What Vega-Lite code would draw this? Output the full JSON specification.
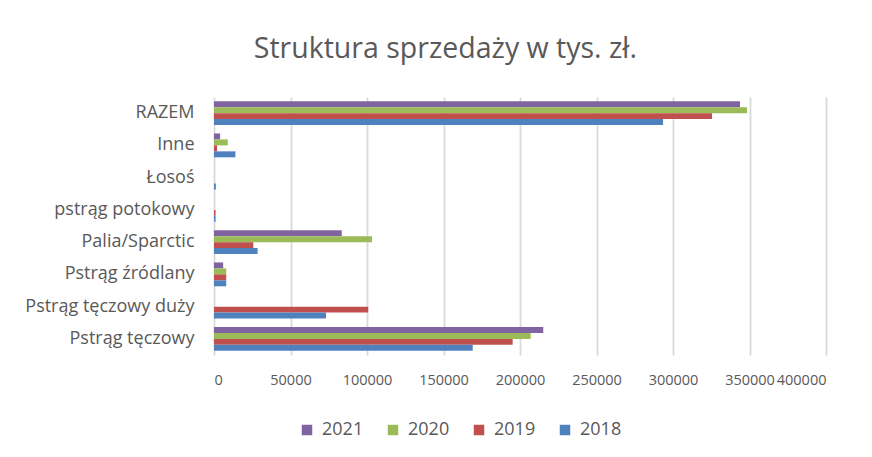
{
  "$schema": "https://vega.github.io/schema/vega-lite/v6.json",
  "width": 612,
  "height": 258,
  "autosize": {"type": "none"},
  "padding": {"left": 214, "top": 97, "right": 46, "bottom": 102},
  "background": "white",
  "title": {"text": "Struktura sprzedaży  w tys. zł.", "fontSize": 28.5, "font": "Open Sans", "fontWeight": "normal", "color": "#595959", "frame": "bounds", "anchor": "middle", "offset": 34, "dx": 20},
  "data": {"values": [
    {"kat": "RAZEM", "rok": "2021", "v": 343800},
    {"kat": "RAZEM", "rok": "2020", "v": 348400},
    {"kat": "RAZEM", "rok": "2019", "v": 325500},
    {"kat": "RAZEM", "rok": "2018", "v": 293500},
    {"kat": "Inne", "rok": "2021", "v": 4000},
    {"kat": "Inne", "rok": "2020", "v": 9000},
    {"kat": "Inne", "rok": "2019", "v": 2000},
    {"kat": "Inne", "rok": "2018", "v": 14000},
    {"kat": "Łosoś", "rok": "2021", "v": 0},
    {"kat": "Łosoś", "rok": "2020", "v": 0},
    {"kat": "Łosoś", "rok": "2019", "v": 0},
    {"kat": "Łosoś", "rok": "2018", "v": 1200},
    {"kat": "pstrąg potokowy", "rok": "2021", "v": 0},
    {"kat": "pstrąg potokowy", "rok": "2020", "v": 0},
    {"kat": "pstrąg potokowy", "rok": "2019", "v": 1000},
    {"kat": "pstrąg potokowy", "rok": "2018", "v": 1000},
    {"kat": "Palia/Sparctic", "rok": "2021", "v": 83500},
    {"kat": "Palia/Sparctic", "rok": "2020", "v": 103300},
    {"kat": "Palia/Sparctic", "rok": "2019", "v": 25700},
    {"kat": "Palia/Sparctic", "rok": "2018", "v": 28500},
    {"kat": "Pstrąg źródlany", "rok": "2021", "v": 6000},
    {"kat": "Pstrąg źródlany", "rok": "2020", "v": 8000},
    {"kat": "Pstrąg źródlany", "rok": "2019", "v": 8000},
    {"kat": "Pstrąg źródlany", "rok": "2018", "v": 8000},
    {"kat": "Pstrąg tęczowy duży", "rok": "2021", "v": 0},
    {"kat": "Pstrąg tęczowy duży", "rok": "2020", "v": 0},
    {"kat": "Pstrąg tęczowy duży", "rok": "2019", "v": 100800},
    {"kat": "Pstrąg tęczowy duży", "rok": "2018", "v": 73200},
    {"kat": "Pstrąg tęczowy", "rok": "2021", "v": 215200},
    {"kat": "Pstrąg tęczowy", "rok": "2020", "v": 207000},
    {"kat": "Pstrąg tęczowy", "rok": "2019", "v": 195200},
    {"kat": "Pstrąg tęczowy", "rok": "2018", "v": 169100}
  ]},
  "mark": {"type": "bar", "stroke": null},
  "encoding": {
    "y": {
      "field": "kat", "type": "nominal",
      "sort": ["RAZEM", "Inne", "Łosoś", "pstrąg potokowy", "Palia/Sparctic", "Pstrąg źródlany", "Pstrąg tęczowy duży", "Pstrąg tęczowy"],
      "scale": {"paddingInner": 0.26, "paddingOuter": 0.13},
      "axis": {"title": null, "ticks": false, "domain": false, "labelFont": "Open Sans", "labelFontSize": 18, "labelColor": "#595959", "labelPadding": 20}
    },
    "yOffset": {"field": "rok", "type": "nominal", "sort": ["2021", "2020", "2019", "2018"]},
    "x": {
      "field": "v", "type": "quantitative",
      "scale": {"domain": [0, 400000], "nice": false},
      "axis": {"title": null, "values": [0, 50000, 100000, 150000, 200000, 250000, 300000, 350000, 400000], "format": "d", "labelOverlap": false, "labelBound": false, "ticks": false, "domain": false, "labelFont": "Open Sans", "labelFontSize": 14.5, "labelColor": "#595959", "labelPadding": 18, "gridColor": "#D9D9D9", "gridWidth": 1.8}
    },
    "color": {
      "field": "rok", "type": "nominal",
      "sort": ["2021", "2020", "2019", "2018"],
      "scale": {"domain": ["2021", "2020", "2019", "2018"], "range": ["#8064A2", "#9BBB59", "#C0504D", "#4F81BD"]},
      "legend": {"title": null, "orient": "none", "legendX": 84, "legendY": 324, "direction": "horizontal", "symbolType": "square", "symbolSize": 110, "labelFont": "Open Sans", "labelFontSize": 18, "labelColor": "#595959", "columnPadding": 20, "labelOffset": 6, "symbolStrokeWidth": 0}
    }
  },
  "config": {"view": {"stroke": null}}
}
